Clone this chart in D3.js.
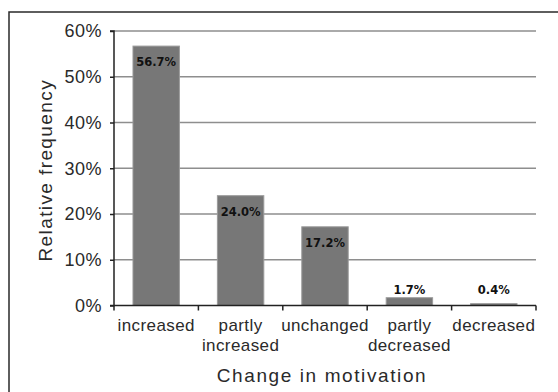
<!DOCTYPE html>
<html>
<head>
<meta charset="utf-8">
<script src="https://cdn.jsdelivr.net/npm/d3@7"></script>
<style>
  body { margin: 0; background: #fff; }
  svg { display: block; }
</style>
</head>
<body>
<svg id="chart" width="558" height="392"></svg>
<script>
/* Chart data */
var categories = [["increased"], ["partly", "increased"], ["unchanged"], ["partly", "decreased"], ["decreased"]];
var values = [56.7, 24.0, 17.2, 1.7, 0.4];
var yTicks = [0, 10, 20, 30, 40, 50, 60];

var margin = {left: 114, right: 22, top: 31, bottom: 86.5};
var width = 558 - margin.left - margin.right;
var height = 392 - margin.top - margin.bottom;

var svg = d3.select("#chart");

// Outer frame (right and bottom run off the picture)
svg.append("rect")
    .attr("x", 9).attr("y", 12)
    .attr("width", 560).attr("height", 390)
    .attr("fill", "none")
    .attr("stroke", "#2a2a2a")
    .attr("stroke-width", 1.5);

var g = svg.append("g")
    .attr("transform", "translate(" + margin.left + "," + margin.top + ")");

var x = d3.scaleBand()
    .domain(d3.range(categories.length))
    .range([0, width])
    .paddingInner(0.45)
    .paddingOuter(0.225);

var xTickScale = d3.scaleLinear().domain([0, categories.length]).range([0, width]);

var y = d3.scaleLinear().domain([0, 60]).range([height, 0]);

// Gridlines
g.selectAll(".grid")
    .data(yTicks.filter(function(t) { return t > 0; }))
    .enter().append("line")
    .attr("x1", 0).attr("x2", width)
    .attr("y1", function(t) { return y(t); })
    .attr("y2", function(t) { return y(t); })
    .attr("stroke", "#8e8e8e")
    .attr("stroke-width", 1.5);

// Bars
g.selectAll(".bar")
    .data(values)
    .enter().append("rect")
    .attr("x", function(v, i) { return x(i); })
    .attr("width", x.bandwidth())
    .attr("y", function(v) { return y(v); })
    .attr("height", function(v) { return height - y(v); })
    .attr("fill", "#777")
    .attr("stroke", "#9a9a9a")
    .attr("stroke-width", 1);

// Value labels (pushed above the bar when it is too short)
g.selectAll(".label")
    .data(values)
    .enter().append("text")
    .attr("x", function(v, i) { return x(i) + x.bandwidth() / 2; })
    .attr("y", function(v) { return Math.min(y(v) + 16, height - 16); })
    .attr("dy", "0.35em")
    .attr("text-anchor", "middle")
    .style("font-family", "'DejaVu Sans', sans-serif")
    .style("font-weight", "bold")
    .style("font-size", "11.5px")
    .attr("fill", "#111")
    .text(function(v) { return v.toFixed(1) + "%"; });

// Y axis
var yAxis = g.append("g")
    .call(d3.axisLeft(y).tickValues(yTicks).tickSize(4).tickPadding(8)
        .tickFormat(function(t) { return t + "%"; }));
yAxis.select(".domain").attr("stroke", "#222").attr("stroke-width", 1.5).attr("d", "M-4,0H0V" + height + "H-4");
yAxis.selectAll(".tick line").attr("stroke", "#222").attr("stroke-width", 1.5);
yAxis.selectAll("text")
    .style("font-family", "'Liberation Sans', Arial, sans-serif")
    .style("font-size", "18px")
    .style("letter-spacing", "0.5px")
    .attr("fill", "#2a2a2a");

// X axis
var xAxis = g.append("g")
    .attr("transform", "translate(0," + height + ")");
xAxis.append("line")
    .attr("x1", 0).attr("x2", width)
    .attr("stroke", "#222").attr("stroke-width", 1.5);
xAxis.selectAll(".xtick")
    .data(d3.range(categories.length + 1))
    .enter().append("line")
    .attr("x1", function(i) { return xTickScale(i); })
    .attr("x2", function(i) { return xTickScale(i); })
    .attr("y1", 0).attr("y2", 5)
    .attr("stroke", "#222").attr("stroke-width", 1.5);

var xLabels = xAxis.selectAll(".xlabel")
    .data(categories)
    .enter().append("text")
    .attr("text-anchor", "middle")
    .style("font-family", "'Liberation Sans', Arial, sans-serif")
    .style("font-size", "17px")
    .style("letter-spacing", "0.4px")
    .attr("fill", "#2a2a2a");
xLabels.selectAll("tspan")
    .data(function(lines, i) { return lines.map(function(l) { return {text: l, i: i}; }); })
    .enter().append("tspan")
    .attr("x", function(d) { return x(d.i) + x.bandwidth() / 2; })
    .attr("y", function(d, j) { return 25 + j * 20.5; })
    .text(function(d) { return d.text; });

// Axis titles
g.append("text")
    .attr("x", width / 2 - 3)
    .attr("y", height + 76)
    .attr("text-anchor", "middle")
    .style("font-family", "'Liberation Sans', Arial, sans-serif")
    .style("font-size", "19px")
    .style("letter-spacing", "1.6px")
    .attr("fill", "#2a2a2a")
    .text("Change in motivation");

g.append("text")
    .attr("transform", "translate(" + (-62) + "," + (height / 2 + 2) + ") rotate(-90)")
    .attr("text-anchor", "middle")
    .style("font-family", "'Liberation Sans', Arial, sans-serif")
    .style("font-size", "19px")
    .style("letter-spacing", "1.4px")
    .attr("fill", "#2a2a2a")
    .text("Relative frequency");
</script>
</body>
</html>
